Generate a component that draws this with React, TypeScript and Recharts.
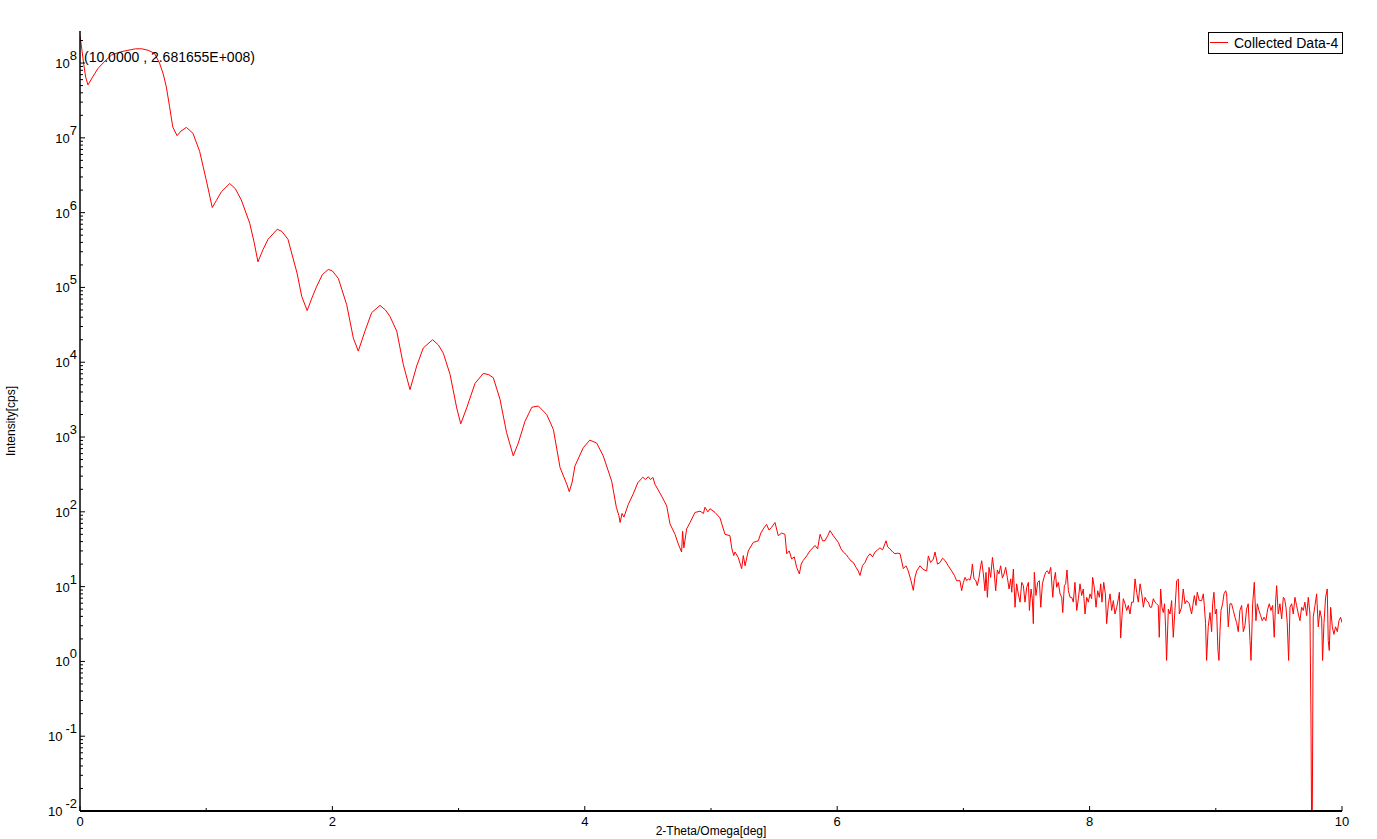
import { LineChart, Line, XAxis, YAxis } from 'recharts'

// scan readout, 2-Theta/Omega [deg] vs intensity [cps]
const twoTheta = [
  0, 0.015, 0.03, 0.045, 0.063, 0.1, 0.143, 0.2, 0.25, 0.32,
  0.38, 0.44, 0.49, 0.54, 0.59, 0.63, 0.66, 0.684, 0.71, 0.735,
  0.769, 0.8, 0.843, 0.895, 0.948, 1.0, 1.048, 1.08, 1.12, 1.186,
  1.23, 1.278, 1.345, 1.38, 1.41, 1.45, 1.49, 1.563, 1.6, 1.648,
  1.72, 1.757, 1.8, 1.84, 1.874, 1.92, 1.967, 2.0, 2.047, 2.113,
  2.166, 2.205, 2.258, 2.311, 2.377, 2.42, 2.456, 2.51, 2.562, 2.615,
  2.668, 2.72, 2.794, 2.84, 2.879, 2.932, 2.985, 3.017, 3.064, 3.13,
  3.196, 3.24, 3.275, 3.328, 3.38, 3.433, 3.473, 3.526, 3.58, 3.632,
  3.698, 3.751, 3.804, 3.857, 3.877, 3.9, 3.922, 3.988, 4.04, 4.094,
  4.146, 4.213, 4.25, 4.27, 4.28, 4.295, 4.31, 4.345, 4.384, 4.42,
  4.46, 4.48, 4.503, 4.52, 4.54, 4.556, 4.609, 4.649, 4.675, 4.715,
  4.741, 4.767, 4.775, 4.785, 4.807, 4.834, 4.873, 4.913, 4.94, 4.952,
  4.975, 4.992, 5.032, 5.071, 5.111, 5.15, 5.164, 5.18, 5.19, 5.216,
  5.243, 5.256, 5.27, 5.295, 5.335, 5.375, 5.395, 5.414, 5.44, 5.46,
  5.48, 5.507, 5.533, 5.56, 5.586, 5.6, 5.62, 5.639, 5.66, 5.679,
  5.7, 5.715, 5.731, 5.76, 5.784, 5.824, 5.845, 5.864, 5.885, 5.903,
  5.925, 5.943, 5.969, 6.009, 6.03, 6.048, 6.07, 6.088, 6.11, 6.128,
  6.15, 6.167, 6.181, 6.2, 6.22, 6.24, 6.26, 6.28, 6.3, 6.32,
  6.339, 6.36, 6.387, 6.4, 6.418, 6.44, 6.458, 6.48, 6.498, 6.524,
  6.545, 6.563, 6.585, 6.603, 6.615, 6.63, 6.656, 6.68, 6.709, 6.722,
  6.74, 6.762, 6.775, 6.795, 6.815, 6.835, 6.854, 6.88, 6.907, 6.93,
  6.946, 6.973, 6.986, 7.0, 7.013, 7.026, 7.039, 7.052, 7.063, 7.071,
  7.084, 7.097, 7.11, 7.124, 7.137, 7.145, 7.158, 7.171, 7.179, 7.19,
  7.203, 7.216, 7.23, 7.243, 7.256, 7.269, 7.282, 7.295, 7.309, 7.322,
  7.335, 7.348, 7.362, 7.375, 7.383, 7.396, 7.409, 7.422, 7.435, 7.449,
  7.462, 7.475, 7.488, 7.502, 7.515, 7.523, 7.536, 7.546, 7.554, 7.562,
  7.575, 7.589, 7.602, 7.613, 7.626, 7.639, 7.652, 7.665, 7.678, 7.692,
  7.708, 7.718, 7.729, 7.739, 7.752, 7.766, 7.779, 7.787, 7.8, 7.81,
  7.821, 7.832, 7.845, 7.858, 7.871, 7.884, 7.898, 7.911, 7.924, 7.937,
  7.95, 7.964, 7.977, 7.99, 8.003, 8.016, 8.024, 8.037, 8.051, 8.064,
  8.077, 8.088, 8.098, 8.112, 8.125, 8.135, 8.149, 8.162, 8.175, 8.188,
  8.201, 8.215, 8.228, 8.236, 8.246, 8.257, 8.267, 8.281, 8.294, 8.307,
  8.32, 8.333, 8.347, 8.36, 8.373, 8.386, 8.4, 8.413, 8.426, 8.439,
  8.452, 8.465, 8.479, 8.491, 8.505, 8.518, 8.531, 8.544, 8.552, 8.563,
  8.573, 8.584, 8.594, 8.602, 8.61, 8.624, 8.637, 8.65, 8.663, 8.676,
  8.69, 8.703, 8.711, 8.729, 8.742, 8.756, 8.769, 8.79, 8.808, 8.83,
  8.843, 8.853, 8.869, 8.888, 8.901, 8.909, 8.919, 8.927, 8.94, 8.954,
  8.967, 8.975, 8.985, 8.996, 9.006, 9.017, 9.025, 9.033, 9.041, 9.054,
  9.065, 9.078, 9.086, 9.099, 9.112, 9.125, 9.139, 9.152, 9.165, 9.178,
  9.191, 9.205, 9.218, 9.231, 9.244, 9.257, 9.271, 9.279, 9.292, 9.305,
  9.318, 9.329, 9.342, 9.355, 9.368, 9.382, 9.397, 9.411, 9.424, 9.437,
  9.45, 9.463, 9.474, 9.482, 9.495, 9.508, 9.522, 9.535, 9.545, 9.556,
  9.566, 9.577, 9.588, 9.601, 9.614, 9.627, 9.64, 9.654, 9.667, 9.68,
  9.693, 9.706, 9.72, 9.733, 9.746, 9.754, 9.762, 9.772, 9.786, 9.799,
  9.812, 9.825, 9.839, 9.846, 9.857, 9.87, 9.883, 9.891, 9.899, 9.91,
  9.923, 9.936, 9.949, 9.963, 9.976, 9.989, 10.0,
]

const intensity = [
  2.3e8, 1.5e8, 9.5e7, 6.5e7, 5.1e7, 6.5e7, 8.5e7, 1.07e8, 1.28e8, 1.41e8,
  1.48e8, 1.55e8, 1.55e8, 1.48e8, 1.35e8, 1.0e8, 7.1e7, 4.8e7, 2.6e7, 1.4e7,
  1.07e7, 1.23e7, 1.38e7, 1.15e7, 6.6e6, 2.75e6, 1.17e6, 1.45e6, 1.9e6, 2.45e6,
  2.1e6, 1.48e6, 7.2e5, 4.0e5, 2.2e5, 3.2e5, 4.4e5, 6.0e5, 5.6e5, 4.4e5,
  1.55e5, 7.6e4, 4.9e4, 7.4e4, 1.02e5, 1.48e5, 1.74e5, 1.66e5, 1.32e5, 5.9e4,
  2.1e4, 1.41e4, 2.6e4, 4.6e4, 5.75e4, 5.0e4, 4.1e4, 2.6e4, 9.3e3, 4.3e3,
  8.9e3, 1.55e4, 2.0e4, 1.7e4, 1.32e4, 6.9e3, 2.45e3, 1.5e3, 2.45e3, 5.2e3,
  7.1e3, 6.8e3, 6.2e3, 3.2e3, 1150, 560, 830, 1620, 2500, 2600,
  2000, 1260, 390, 235, 186, 250, 410, 720, 910, 830,
  560, 257, 115, 89, 72, 95, 85, 126, 174, 245,
  290, 270, 295, 270, 288, 234, 162, 120, 69, 50,
  37, 29, 55, 33, 59, 72, 98, 102, 95, 115,
  100, 110, 98, 83, 50, 48, 33, 26, 29, 24.5,
  17.4, 26, 19, 30, 39, 41, 52, 59, 68, 57,
  62, 72, 48, 52, 50, 27.5, 30, 23.4, 25, 18,
  14.8, 20, 22.4, 26, 30, 35.5, 32, 50, 41, 41,
  48, 56, 48, 39, 32, 29, 27, 24.5, 22, 21,
  18, 16.2, 14.1, 19, 21, 25, 27.5, 25, 29, 31,
  33, 31, 41, 34, 32, 29, 27.5, 28, 27.5, 17.4,
  19, 16.2, 12, 8.9, 13, 16.2, 19, 17, 16.2, 25.7,
  21, 23.4, 29, 20, 21, 24, 22.4, 19, 16.2, 14,
  12, 12, 8.8, 11.4, 13.3, 12, 12.7, 12.2, 14.8, 20,
  12.7, 12.2, 10.3, 13.3, 19, 22.2, 14.8, 8.8, 15.5, 7.2,
  18.1, 13.3, 24.6, 16.3, 8.8, 16.7, 14.8, 19, 13, 14.8,
  18.1, 13.3, 9.3, 12.7, 8.4, 17.2, 5.3, 10.9, 8, 6.2,
  11.4, 10.3, 6.2, 9.8, 11.4, 4.8, 9.3, 6.9, 3.2, 15.5,
  7.6, 11.4, 12, 5.3, 10.9, 13.3, 15.5, 16.3, 14.8, 18.1,
  7.2, 12, 15.5, 9.8, 11.4, 8, 7.2, 4.5, 10.3, 10.9,
  16.7, 8.8, 7.2, 7.2, 6.2, 11.4, 4.8, 6.9, 10.9, 7.6,
  9.3, 4.3, 7.2, 6.2, 8, 6.9, 13.3, 9.8, 5.3, 8.8,
  7.2, 10.9, 6.2, 11.4, 8, 3.2, 5.9, 8, 4.8, 6.5,
  4.3, 5.3, 6.9, 8.4, 2.05, 4.1, 6.9, 5.9, 4.8, 5.6,
  4.3, 6.2, 6.2, 12.7, 8.4, 6.2, 10.9, 8, 5.3, 7.2,
  6.5, 6.2, 5.3, 5.3, 6.9, 6.2, 5.9, 5.6, 2.1, 9.3,
  5.3, 4.5, 5.9, 2.9, 1.03, 5, 4.3, 6.5, 2.1, 4.8,
  12, 12.6, 4.3, 5.3, 9.3, 5.9, 6.5, 5.9, 4.3, 7.6,
  5.6, 8.4, 6.5, 6.5, 8, 5.6, 3.2, 1.03, 2.9, 4.5,
  2.5, 5.9, 8.4, 4.3, 5, 1.4, 1.03, 2.5, 4.8, 5.9,
  8, 8.8, 8, 2.9, 5.9, 5.9, 4.8, 3.9, 3.3, 2.5,
  4.8, 5.6, 2.5, 3, 5, 5.9, 1.9, 1.03, 5.9, 11.4,
  3.5, 5.9, 4.8, 4.1, 3.5, 3.9, 3.5, 5, 5.9, 4.8,
  5.6, 2.1, 6.2, 10.3, 4.3, 5.9, 3.7, 7.2, 6.9, 5.3,
  3.3, 1.03, 5.3, 5.9, 4.3, 7.2, 5.6, 4.3, 3.5, 5.3,
  4.8, 6.2, 4.1, 7.2, 4.3, 0.18, 0.001, 3.9, 5.6, 8,
  2.9, 4.8, 3.7, 1.03, 3.2, 7.2, 9.3, 1.9, 1.4, 5.3,
  2.9, 2.3, 2.9, 2.5, 3.5, 3.9, 3.3,
]

const xTickValues = [0, 1, 2, 3, 4, 5, 6, 7, 8, 9, 10]
const yDecades = [-2, -1, 0, 1, 2, 3, 4, 5, 6, 7, 8]
const yMax = 2.681655e8
const seriesName = 'Collected Data-4'
const cursorText = '(10.0000 , 2.681655E+008)'
const xTitle = '2-Theta/Omega[deg]'
const yTitle = 'Intensity[cps]'

const FONT = "'Liberation Sans', Arial, sans-serif"

const data = twoTheta.map((x, i) => ({ x, y: intensity[i] }))

const yMajors = yDecades.map((e) => 10 ** e)
const yTicks = yDecades
  .flatMap((e) => [1, 2, 3, 4, 5, 6, 7, 8, 9].map((m) => m * 10 ** e))
  .filter((v) => v <= yMax)

const isMajorY = (v: number) => yMajors.some((m) => Math.abs(v - m) < m * 1e-9)

function LeftTick(props: any) {
  const { x, y, payload } = props
  const v = payload.value
  const major = isMajorY(v)
  return (
    <g>
      <line x1={x} x2={x + (major ? 5 : 3)} y1={y} y2={y} stroke="#000" />
      {major && (
        <text x={x - 3} y={y + 5} textAnchor="end" fontSize={13} fontFamily={FONT} fill="#000">
          <tspan>10</tspan>
          <tspan dx={v < 1 ? 3 : 0} dy={-8}>{Math.round(Math.log10(v))}</tspan>
        </text>
      )}
    </g>
  )
}

function RightTick(props: any) {
  const { x, y, payload } = props
  const major = isMajorY(payload.value)
  return <line x1={x} x2={x - (major ? 5 : 3)} y1={y} y2={y} stroke="#000" />
}

function BottomTick(props: any) {
  const { x, y, payload } = props
  const major = payload.value % 2 === 0
  return (
    <g>
      <line x1={x} x2={x} y1={y} y2={y - (major ? 5 : 3)} stroke="#000" />
      {major && (
        <text x={x} y={y + 15} textAnchor="middle" fontSize={13} fontFamily={FONT} fill="#000">
          {payload.value}
        </text>
      )}
    </g>
  )
}

function TopTick(props: any) {
  const { x, y, payload } = props
  const major = payload.value % 2 === 0
  return <line x1={x} x2={x} y1={y} y2={y + (major ? 5 : 3)} stroke="#000" />
}

function XTitle(props: any) {
  const vb = props.viewBox
  return (
    <text x={vb.x + vb.width / 2} y={vb.y + 24} textAnchor="middle" fontSize={12} fontFamily={FONT} fill="#000">
      {xTitle}
    </text>
  )
}

function YTitle(props: any) {
  const vb = props.viewBox
  const cx = vb.x + 15
  const cy = vb.y + vb.height / 2
  return (
    <text x={cx} y={cy} transform={`rotate(-90 ${cx} ${cy})`} textAnchor="middle" fontSize={12} fontFamily={FONT} fill="#000">
      {yTitle}
    </text>
  )
}

export default function App() {
  return (
    <div style={{ position: 'absolute', left: 0, top: 0, width: 1377, height: 839, background: '#fff', fontFamily: FONT }}>
      <LineChart width={1377} height={839} data={data} margin={{ top: 31, right: 35, bottom: 0, left: 0 }}>
        <XAxis
          dataKey="x"
          type="number"
          domain={[0, 10]}
          ticks={xTickValues}
          interval={0}
          allowDataOverflow
          height={28}
          tickSize={0}
          tickMargin={0}
          tickLine={false}
          tick={BottomTick}
          axisLine={{ stroke: '#000', strokeWidth: 2 }}
          label={{ value: xTitle, content: XTitle }}
        />
        <XAxis
          xAxisId="top"
          orientation="top"
          dataKey="x"
          type="number"
          domain={[0, 10]}
          ticks={xTickValues}
          interval={0}
          allowDataOverflow
          height={0}
          tickSize={0}
          tickMargin={0}
          tickLine={false}
          tick={TopTick}
          axisLine={{ stroke: '#000', strokeWidth: 1 }}
        />
        <YAxis
          type="number"
          scale="log"
          domain={[0.01, yMax]}
          ticks={yTicks}
          interval={0}
          allowDataOverflow
          width={80}
          tickSize={0}
          tickMargin={0}
          tickLine={false}
          tick={LeftTick}
          axisLine={{ stroke: '#000', strokeWidth: 1.5 }}
          label={{ value: yTitle, content: YTitle }}
        />
        <YAxis
          yAxisId="right"
          orientation="right"
          type="number"
          scale="log"
          domain={[0.01, yMax]}
          ticks={yTicks}
          interval={0}
          allowDataOverflow
          width={0}
          tickSize={0}
          tickMargin={0}
          tickLine={false}
          tick={RightTick}
          axisLine={{ stroke: '#000', strokeWidth: 2 }}
        />
        <Line
          type="linear"
          dataKey="y"
          name={seriesName}
          stroke="#ff0000"
          strokeWidth={1}
          dot={false}
          activeDot={false}
          isAnimationActive={false}
        />
      </LineChart>

      {/* cursor readout */}
      <div style={{ position: 'absolute', left: 84, top: 50, fontSize: 14, lineHeight: '14px', color: '#000', whiteSpace: 'nowrap' }}>
        {cursorText}
      </div>

      {/* legend box */}
      <div
        style={{
          position: 'absolute',
          left: 1208,
          top: 32,
          width: 133,
          height: 20,
          border: '1px solid #000',
          background: '#fff',
          boxSizing: 'content-box',
        }}
      >
        <div style={{ position: 'absolute', left: 1, top: 9, width: 18, height: 1, background: '#ff0000' }} />
        <div style={{ position: 'absolute', left: 25, top: 3, fontSize: 14, lineHeight: '14px', color: '#000', whiteSpace: 'nowrap' }}>
          {seriesName}
        </div>
      </div>
    </div>
  )
}
